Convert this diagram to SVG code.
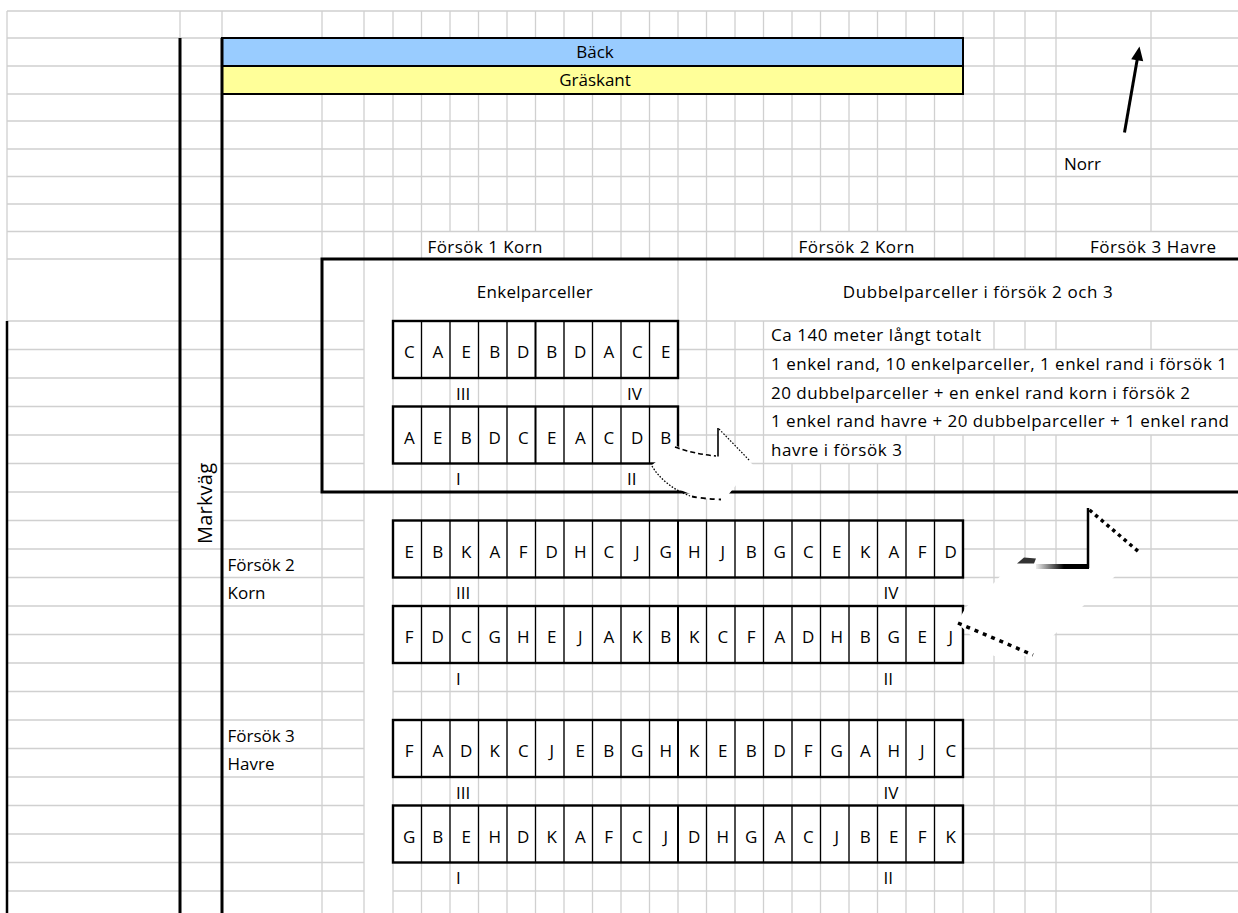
<svg xmlns="http://www.w3.org/2000/svg" width="1238" height="913" viewBox="0 0 1238 913">
<style>
.g{fill:none;stroke:#d0d0d0;stroke-width:1.3}
.k{fill:none;stroke:#000}
.t{font-family:"Open Sans","Noto Sans","Liberation Sans",sans-serif;font-size:17px;fill:#000}
.c{text-anchor:middle}
</style>
<defs>
<linearGradient id="fadeL" gradientUnits="userSpaceOnUse" x1="1034" y1="0" x2="1064" y2="0">
<stop offset="0" stop-color="#fff"/><stop offset="1" stop-color="#000"/>
</linearGradient>
</defs>
<rect width="1238" height="913" fill="#fff"/>
<g id="grid">
<path class="g" d="M7,11H1238 M7,38H222 M963,38H1238 M7,66H222 M963,66H1238 M7,94H222 M963,94H1238 M7,121H1238 M7,149H1238 M7,176.5H1238 M7,204H1238 M7,231.5H1238 M7,259H322
M7,321H364 M678,321H1238 M7,349.5H364 M678,349.5H1238 M7,378H364 M678,378H1238 M7,406.5H364 M678,406.5H1238 M7,435H364 M678,435H1238
M7,463.5H180 M222,463.5H364 M678,463.5H1238 M7,492H180 M222,492H322 M7,520.5H180 M222,520.5H364 M963,520.5H1238
M7,549H364 M963,549H1238 M7,577.5H364 M963,577.5H1238 M7,606H364 M963,606H1238 M7,634.5H364 M963,634.5H1238 M7,663H364 M963,663H1238
M7,691.5H364 M393,691.5H1238 M7,720H364 M963,720H1238 M7,748.5H364 M963,748.5H1238 M7,777H364 M963,777H1238 M7,805.5H364 M963,805.5H1238
M7,834H364 M963,834H1238 M7,862.5H364 M963,862.5H1238 M7,891H364 M393,891H1238"/>
<path class="g" d="M7,11V321 M180,11V38 M222,11V38 M322,11V38 M322,94V259 M322,492V913 M364,11V38 M364,94V913 M393,11V38 M393,94V913
M421.5,11V38 M421.5,94V259 M421.5,321V913
M450,11V38 M450,94V231.5 M450,321V913 M478.5,11V38 M478.5,94V231.5 M478.5,321V913 M507,11V38 M507,94V231.5 M507,321V913 M535.5,11V38 M535.5,94V231.5 M535.5,321V913
M564,11V38 M564,94V259 M564,321V913 M592.5,11V38 M592.5,94V259 M592.5,321V913 M621,11V38 M621,94V259 M621,321V913 M649.5,11V38 M649.5,94V259 M649.5,321V913
M678,11V38 M678,94V913 M706.5,11V38 M706.5,94V913
M735,11V38 M735,94V259 M735,321V913 M763.5,11V38 M763.5,94V259 M763.5,321V913
M792,11V38 M792,94V259 M792,463.5V913
M820.5,11V38 M820.5,94V231.5 M820.5,463.5V913 M849,11V38 M849,94V231.5 M849,463.5V913 M877.5,11V38 M877.5,94V231.5 M877.5,463.5V913
M906,11V38 M906,94V231.5 M906,435V913 M934.5,11V38 M934.5,94V259 M934.5,435V913 M963,11V38 M963,94V259 M963,435V913
M994,11V259 M994,321V349.5 M994,435V913 M1025,11V259 M1025,321V349.5 M1025,435V913 M1056,11V259 M1056,321V349.5 M1056,435V913
M1151,11V231.5 M1151,321V349.5 M1151,435V913"/>
</g>
<g id="baeck">
<rect x="222" y="38" width="741" height="28" fill="#99ccff"/>
<rect x="222" y="66" width="741" height="28" fill="#ffff99"/>
<path class="k" stroke-width="2" d="M222,38H963V94H222Z M222,66H963"/>
<text class="t c" x="595" y="57.5">Bäck</text>
<text class="t c" x="595" y="86">Gräskant</text>
</g>
<g id="roads">
<path class="k" stroke-width="3" d="M180,38V913 M222,38V913"/>
<path class="k" stroke-width="2.5" d="M7,321V913"/>
<text class="t" font-size="20" transform="translate(212,544) rotate(-90)" textLength="81" style="font-size:20px">Markväg</text>
</g>
<g id="north">
<path class="k" stroke-width="3" d="M1124.5,132.5L1137.3,59"/>
<polygon points="1139.5,46.5 1143.2,61.3 1131.2,59.3" fill="#000"/>
<text class="t" x="1064" y="169.5">Norr</text>
</g>
<g id="headings">
<text class="t" x="427.5" y="252.5" textLength="115">Försök 1 Korn</text>
<text class="t" x="798.5" y="252.5" textLength="116">Försök 2 Korn</text>
<text class="t" x="1090" y="252.5" textLength="126">Försök 3 Havre</text>
</g>
<g id="forsok1">
<path class="k" stroke-width="3" d="M1238,259H322V492H1238"/>
<text class="t" x="476.7" y="297.5" textLength="116">Enkelparceller</text>
<text class="t" x="842.7" y="298" textLength="270">Dubbelparceller i försök 2 och 3</text>
<path class="k" stroke-width="1.3" d="M421.5,321V378 M450,321V378 M478.5,321V378 M507,321V378 M564,321V378 M592.5,321V378 M621,321V378 M649.5,321V378 M421.5,406.5V463.5 M450,406.5V463.5 M478.5,406.5V463.5 M507,406.5V463.5 M564,406.5V463.5 M592.5,406.5V463.5 M621,406.5V463.5 M649.5,406.5V463.5"/>
<path class="k" stroke-width="2" d="M535.5,321V378 M535.5,406.5V463.5"/>
<rect class="k" stroke-width="2.4" x="393" y="321" width="285" height="57"/>
<rect class="k" stroke-width="2.4" x="393" y="406.5" width="285" height="57"/>
<text class="t c" x="409.25 437.75 466.25 494.75 523.25 551.75 580.25 608.75 637.25 665.75" y="358">CAEBDBDACE</text>
<text class="t c" x="409.25 437.75 466.25 494.75 523.25 551.75 580.25 608.75 637.25 665.75" y="443.5">AEBDCEACDB</text>
<text class="t" x="456" y="400">III</text>
<text class="t" x="627" y="400">IV</text>
<text class="t" x="456" y="485">I</text>
<text class="t" x="627" y="485">II</text>
</g>
<g id="notes">
<text class="t" x="771" y="341" textLength="210">Ca 140 meter långt totalt</text>
<text class="t" x="771" y="370" textLength="456">1 enkel rand, 10 enkelparceller, 1 enkel rand i försök 1</text>
<text class="t" x="771" y="398.5" textLength="419">20 dubbelparceller + en enkel rand korn i försök 2</text>
<text class="t" x="771" y="427" textLength="458">1 enkel rand havre + 20 dubbelparceller + 1 enkel rand</text>
<text class="t" x="771" y="455.5" textLength="131">havre i försök 3</text>
</g>
<g id="forsok2">
<text class="t" x="227.5" y="570.5">Försök 2</text>
<text class="t" x="227.5" y="599">Korn</text>
<path class="k" stroke-width="1.3" d="M421.5,520.5V577.5 M450,520.5V577.5 M478.5,520.5V577.5 M507,520.5V577.5 M535.5,520.5V577.5 M564,520.5V577.5 M592.5,520.5V577.5 M621,520.5V577.5 M649.5,520.5V577.5 M706.5,520.5V577.5 M735,520.5V577.5 M763.5,520.5V577.5 M792,520.5V577.5 M820.5,520.5V577.5 M849,520.5V577.5 M877.5,520.5V577.5 M906,520.5V577.5 M934.5,520.5V577.5
M421.5,606V663 M450,606V663 M478.5,606V663 M507,606V663 M535.5,606V663 M564,606V663 M592.5,606V663 M621,606V663 M649.5,606V663 M706.5,606V663 M735,606V663 M763.5,606V663 M792,606V663 M820.5,606V663 M849,606V663 M877.5,606V663 M906,606V663 M934.5,606V663"/>
<path class="k" stroke-width="2" d="M678,520.5V577.5 M678,606V663"/>
<rect class="k" stroke-width="2.4" x="393" y="520.5" width="570" height="57"/>
<rect class="k" stroke-width="2.4" x="393" y="606" width="570" height="57"/>
<text class="t c" x="409.25 437.75 466.25 494.75 523.25 551.75 580.25 608.75 637.25 665.75 694.25 722.75 751.25 779.75 808.25 836.75 865.25 893.75 922.25 950.75" y="557.5">EBKAFDHCJGHJBGCEKAFD</text>
<text class="t c" x="409.25 437.75 466.25 494.75 523.25 551.75 580.25 608.75 637.25 665.75 694.25 722.75 751.25 779.75 808.25 836.75 865.25 893.75 922.25 950.75" y="643">FDCGHEJAKBKCFADHBGEJ</text>
<text class="t" x="456" y="599">III</text>
<text class="t" x="883.5" y="599">IV</text>
<text class="t" x="456" y="684.5">I</text>
<text class="t" x="883.5" y="684.5">II</text>
</g>
<g id="forsok3">
<text class="t" x="227.5" y="741.5">Försök 3</text>
<text class="t" x="227.5" y="770">Havre</text>
<path class="k" stroke-width="1.3" d="M421.5,720V777 M450,720V777 M478.5,720V777 M507,720V777 M535.5,720V777 M564,720V777 M592.5,720V777 M621,720V777 M649.5,720V777 M706.5,720V777 M735,720V777 M763.5,720V777 M792,720V777 M820.5,720V777 M849,720V777 M877.5,720V777 M906,720V777 M934.5,720V777
M421.5,805.5V862.5 M450,805.5V862.5 M478.5,805.5V862.5 M507,805.5V862.5 M535.5,805.5V862.5 M564,805.5V862.5 M592.5,805.5V862.5 M621,805.5V862.5 M649.5,805.5V862.5 M706.5,805.5V862.5 M735,805.5V862.5 M763.5,805.5V862.5 M792,805.5V862.5 M820.5,805.5V862.5 M849,805.5V862.5 M877.5,805.5V862.5 M906,805.5V862.5 M934.5,805.5V862.5"/>
<path class="k" stroke-width="2" d="M678,720V777 M678,805.5V862.5"/>
<rect class="k" stroke-width="2.4" x="393" y="720" width="570" height="57"/>
<rect class="k" stroke-width="2.4" x="393" y="805.5" width="570" height="57"/>
<text class="t c" x="409.25 437.75 466.25 494.75 523.25 551.75 580.25 608.75 637.25 665.75 694.25 722.75 751.25 779.75 808.25 836.75 865.25 893.75 922.25 950.75" y="757">FADKCJEBGHKEBDFGAHJC</text>
<text class="t c" x="409.25 437.75 466.25 494.75 523.25 551.75 580.25 608.75 637.25 665.75 694.25 722.75 751.25 779.75 808.25 836.75 865.25 893.75 922.25 950.75" y="842.5">GBEHDKAFCJDHGACJBEFK</text>
<text class="t" x="456" y="798.5">III</text>
<text class="t" x="883.5" y="798.5">IV</text>
<text class="t" x="456" y="884">I</text>
<text class="t" x="883.5" y="884">II</text>
</g>
<g id="connectors">
<g id="arrow1">
<polygon fill="#fff" points="652,465 676,446 697,452 718,456 718,428 753,465 737,484 724,500 700,498 678,489 662,478"/>
<path class="k" stroke-width="1.6" stroke-dasharray="5 3" d="M675,447 Q694,454 716,456"/>
<path class="k" stroke-width="1.6" d="M718,456.5V428"/>
<path class="k" stroke-width="1.2" stroke-dasharray="1.6 1.6" d="M719,429L750,461"/>
<path class="k" stroke-width="1.3" stroke-dasharray="1.6 1.6" d="M652,466 Q664,486 690,496"/>
<path class="k" stroke-width="1.8" stroke-dasharray="5 4" d="M692,496.5 Q705,499 721,499.5"/>
</g>
<g id="arrow2">
<polygon fill="#fff" points="1016,559 1040,566 1088,566 1088,508 1141,552 1112,579 1082,607 1053,636 1034,656 994,656 957,623 966,607 994,583"/>
<path class="k" stroke-width="2.5" d="M1088,508V568"/>
<path stroke="url(#fadeL)" stroke-width="5" d="M1036,566.5H1089"/>
<polygon points="1017,563.5 1024,557.5 1036,558.5 1034,563.5" fill="#333"/>
<path class="k" stroke-width="3.5" stroke-dasharray="3.5 4" d="M1089.5,510L1139,552"/>
<path class="k" stroke-width="3.5" stroke-dasharray="4 5" d="M958,623 L1033,655"/>
</g>
</g>
</svg>
